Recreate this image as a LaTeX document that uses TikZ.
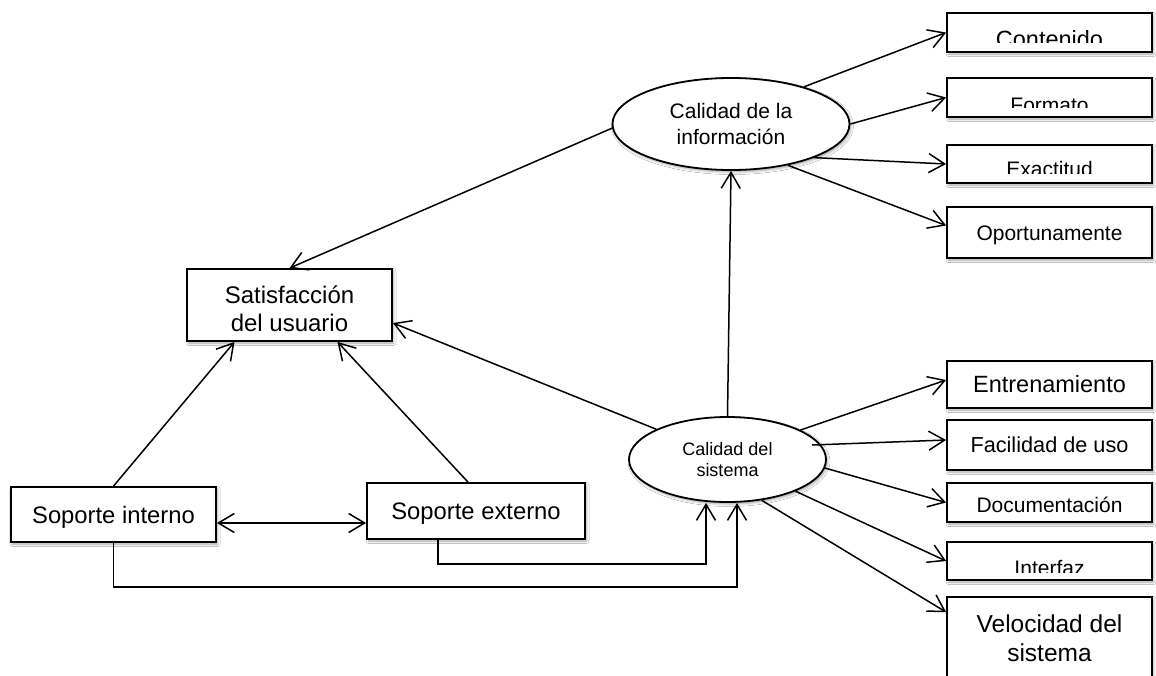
\documentclass[tikz,border=0pt]{standalone}
\usepackage{fontspec}
\setmainfont{Liberation Sans}
\usetikzlibrary{arrows.meta,shapes.geometric,shadows.blur,calc}

% font size / baseline skip in one go
\newcommand\fsz[2]{\fontsize{#1pt}{#2pt}\selectfont}

\begin{document}
\begin{tikzpicture}[x=1pt,y=-1pt,
  >={Straight Barb[length=16pt,width=19pt]},
  shade/.style={blur shadow={shadow xshift=1.5pt,shadow yshift=-2pt,
      shadow blur radius=2.5pt,shadow opacity=35}},
  box/.style={draw,line width=1.8pt,fill=white,rectangle,inner sep=0pt,
      shade,align=center},
  rbox/.style={box,minimum width=205pt},
  oval/.style={draw,line width=1.8pt,fill=white,ellipse,inner sep=0pt,
      shade,align=center},
  word/.style={inner sep=0pt,anchor=base},
  arr/.style={->,line width=1.5pt},
  link/.style={line width=1.5pt}]

\fill[white] (0,0) rectangle (1156,675);
\useasboundingbox (0,0) rectangle (1156,675);
\clip (0,0) rectangle (1156,675);

% central concepts
\node[oval,minimum width=237pt,minimum height=92pt,font=\fsz{21}{26}]
  (info) at (731,124) {Calidad de la\\información};
\node[oval,minimum width=197pt,minimum height=85pt,font=\fsz{18}{21}]
  (sys) at (727.5,459.5) {Calidad del\\sistema};

% left side
\node[box,minimum width=205pt,minimum height=72pt] (sat) at (289.5,305) {};
\node[inner sep=0pt,align=center,font=\fsz{24}{28}] (sat-t) at (289.5,309)
  {Satisfacción\\del usuario};
\node[box,minimum width=205pt,minimum height=55pt,font=\fsz{23.8}{28},
  text height=17pt,text depth=0pt] (si) at (113.5,514.5) {Soporte interno};
\node[box,minimum width=218pt,minimum height=56pt,font=\fsz{23.8}{28},
  text height=17pt,text depth=0pt] (se) at (476,511) {Soporte externo};

% information dimensions
\node[rbox,minimum height=39pt] (cont) at (1049.5,32.5) {};
\begin{scope}
  \clip (cont.north west) rectangle (cont.east |- 0,42);
  \node[word,font=\fsz{23.5}{28}] (cont-t) at (1049.5,47.5) {Contenido};
\end{scope}
\node[rbox,minimum height=39pt] (form) at (1049.5,97.5) {};
\begin{scope}
  \clip (form.north west) rectangle (form.east |- 0,107);
  \node[word,font=\fsz{21}{25}] (form-t) at (1049.5,112) {Formato};
\end{scope}
\node[rbox,minimum height=38pt] (exac) at (1049.5,164) {};
\begin{scope}
  \clip (exac.north west) rectangle (exac.east |- 0,173);
  \node[word,font=\fsz{21}{25}] (exac-t) at (1049.5,176) {Exactitud};
\end{scope}
\node[rbox,minimum height=51pt,font=\fsz{21}{25},text height=15pt,
  text depth=0pt] (oport) at (1049.5,232.5) {Oportunamente};

% system dimensions
\node[rbox,minimum height=47pt,font=\fsz{23.5}{28},text height=16.8pt,
  text depth=0pt] (entr) at (1049.5,384.5) {Entrenamiento};
\node[rbox,minimum height=50pt,font=\fsz{21.7}{26},text height=15.5pt,
  text depth=0pt] (faci) at (1049.5,445) {Facilidad de uso};
\node[rbox,minimum height=39pt] (docu) at (1049.5,502.5) {};
\begin{scope}
  \clip (docu.north west) rectangle (docu.east |- 0,513);
  \node[word,font=\fsz{21}{25}] (docu-t) at (1049.5,512) {Documentación};
\end{scope}
\node[rbox,minimum height=38pt] (intf) at (1049.5,561) {};
\begin{scope}
  \clip (intf.north west) rectangle (intf.east |- 0,572);
  \node[word,font=\fsz{21}{25}] (intf-t) at (1049.5,575) {Interfaz};
\end{scope}
\node[rbox,minimum height=82pt,font=\fsz{24.5}{29}]
  (velo) at (1049.5,638) {Velocidad del\\sistema};

% connectors
\draw[arr] (info.182) -- (sat.north);
\draw[arr] (info.27) -- (cont.west);
\draw[arr] (info.east) -- (form.west);
\draw[arr] (info.-22) -- (exac.west);
\draw[arr] (info.-36) -- ([yshift=7pt]oport.west);

\draw[arr] (sys.north) -- (info.south);
\draw[arr] (sys.157) -- ([yshift=-18pt]sat.east);
\draw[arr] (sys.22) -- ([yshift=4.5pt]entr.west);
\draw[arr] ($(sys.center)+(84.5,-14.5)$) -- ([yshift=5pt]faci.west);
\draw[arr] (sys.-5) -- (docu.west);
\draw[arr] (sys.-25) -- (intf.west);
\draw[arr] (sys.-50) -- ([yshift=-16pt]velo.north west);

\draw[arr] (si.north) -- ([xshift=-55pt]sat.south);
\draw[arr] ([xshift=-8pt]se.north) -- ([xshift=48pt]sat.south);
\draw[link,<->] ([yshift=-8.5pt]si.east) -- ([yshift=-8.5pt]si.east -| se.west);

\draw[arr] (si.south) -- ++(0,44) -| ([xshift=9.5pt]sys.south);
\draw[arr] ([xshift=-38pt]se.south) -- ++(0,24) -| ([xshift=-21.5pt]sys.south);

\end{tikzpicture}
\end{document}
